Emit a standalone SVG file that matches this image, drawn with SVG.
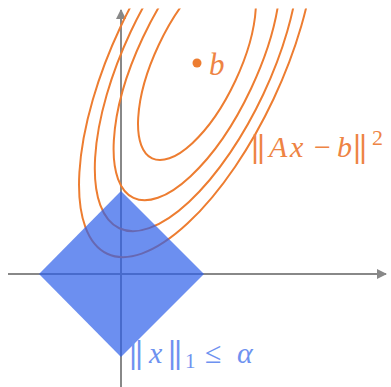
<svg xmlns="http://www.w3.org/2000/svg" width="391" height="387" viewBox="0 0 391 387">
<style>
.axis{stroke:#888888;stroke-width:2;fill:none}
.lvl{fill:none;stroke:#ed7d31;stroke-width:2}
.t{font-family:"Liberation Serif","Times New Roman",serif}
.it{font-style:italic}
.bar{font-family:"DejaVu Serif",serif;letter-spacing:-4px}
.or{fill:#ee8444}
.bl{fill:#6e92f0}
</style>
<defs>
<marker id="arr" viewBox="0 0 10 10" refX="9" refY="5" markerWidth="14" markerHeight="10" markerUnits="userSpaceOnUse" orient="auto">
<path d="M0,0 L10,5 L0,10 Z" fill="#888888"/>
</marker>
<clipPath id="clip"><rect x="0" y="8.5" width="391" height="380"/></clipPath>
</defs>
<rect width="391" height="387" fill="#ffffff"/>
<g id="connectors">
<line class="axis" x1="8" y1="274" x2="386" y2="274" marker-end="url(#arr)"/>
<line class="axis" x1="121" y1="387" x2="121" y2="10" marker-end="url(#arr)"/>
</g>
<g id="levels" clip-path="url(#clip)">
<g transform="rotate(-64.8 197 63)">
<ellipse class="lvl" cx="197" cy="63" rx="105.4" ry="42.3"/>
<ellipse class="lvl" cx="197" cy="63" rx="149.1" ry="59.8"/>
<ellipse class="lvl" cx="197" cy="63" rx="182.6" ry="73.3"/>
<ellipse class="lvl" cx="197" cy="63" rx="210.8" ry="84.6"/>
</g>
</g>
<g id="point-b">
<circle cx="197" cy="63" r="4.5" fill="#ed7d31"/>
<text class="t it or" x="209" y="75" font-size="31">b</text>
</g>
<g id="l1-ball">
<polygon points="121,191 204,274 121,357 39,274" fill="#2d5fea" fill-opacity="0.7"/>
</g>
<g id="label-loss">
<text class="t or" y="157" font-size="30"><tspan class="bar" x="250">||</tspan><tspan class="it" x="269">A</tspan><tspan class="it" x="290">x</tspan><tspan x="314">−</tspan><tspan class="it" x="337">b</tspan><tspan class="bar" x="352">||</tspan><tspan x="372" y="145" font-size="22">2</tspan></text>
</g>
<g id="label-constraint">
<text class="t bl" y="363" font-size="30"><tspan class="bar" x="128">||</tspan><tspan class="it" x="149">x</tspan><tspan class="bar" x="167">||</tspan><tspan x="185" y="368" font-size="21">1</tspan><tspan x="205" y="363">≤</tspan><tspan class="it" x="237">α</tspan></text>
</g>
</svg>
